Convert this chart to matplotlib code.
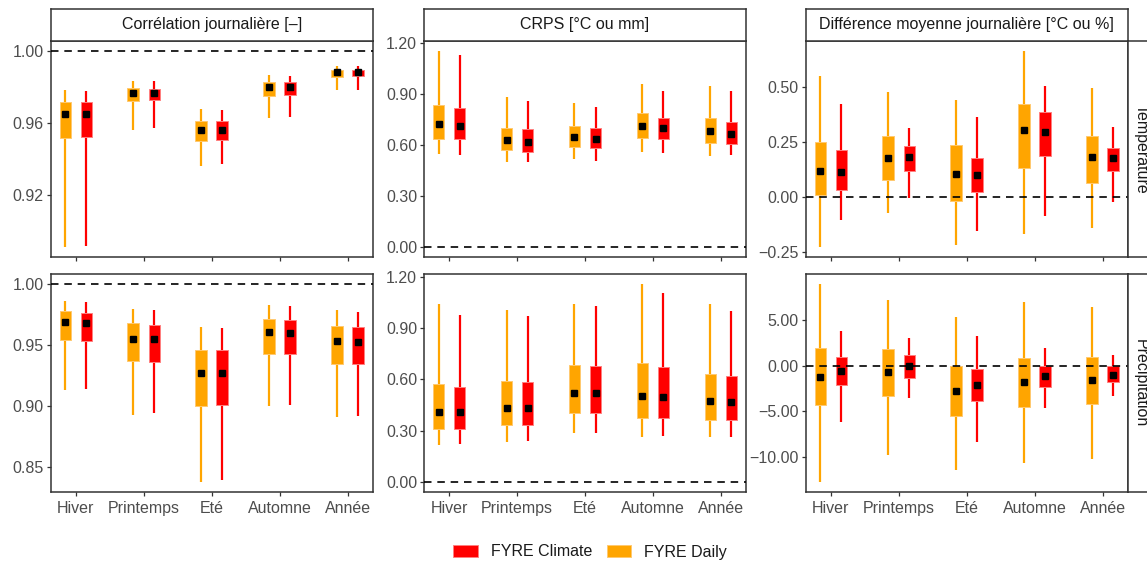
import matplotlib
matplotlib.use("Agg")
import matplotlib.pyplot as plt
from matplotlib.patches import Rectangle
import numpy as np

plt.rcParams['font.family'] = ['Liberation Sans', 'DejaVu Sans']

seasons = ["Hiver", "Printemps", "Eté", "Automne", "Année"]
metrics = ["Corrélation journalière [–]", "CRPS [°C ou mm]", "Différence moyenne journalière [°C ou %]"]
variables = ["Température", "Précipitation"]
series = ["FYRE Climate", "FYRE Daily"]

# each row: [whisker low, box low, point, box high, whisker high] per season
corr_temp_daily = [[0.8914, 0.9519, 0.9648, 0.9716, 0.9780],
                   [0.9563, 0.9722, 0.9764, 0.9792, 0.9830],
                   [0.9364, 0.9500, 0.9561, 0.9613, 0.9676],
                   [0.9628, 0.9751, 0.9799, 0.9827, 0.9864],
                   [0.9780, 0.9856, 0.9880, 0.9895, 0.9917]]
corr_temp_climate = [[0.8918, 0.9523, 0.9648, 0.9714, 0.9775],
                     [0.9572, 0.9725, 0.9764, 0.9790, 0.9830],
                     [0.9371, 0.9504, 0.9561, 0.9613, 0.9674],
                     [0.9635, 0.9757, 0.9799, 0.9827, 0.9862],
                     [0.9784, 0.9860, 0.9880, 0.9895, 0.9917]]
crps_temp_daily = [[0.545, 0.635, 0.721, 0.836, 1.153],
                   [0.500, 0.570, 0.627, 0.699, 0.881],
                   [0.518, 0.590, 0.645, 0.713, 0.848],
                   [0.557, 0.639, 0.709, 0.787, 0.959],
                   [0.537, 0.611, 0.680, 0.756, 0.943]]
crps_temp_climate = [[0.543, 0.633, 0.709, 0.818, 1.128],
                     [0.498, 0.559, 0.615, 0.691, 0.855],
                     [0.508, 0.580, 0.635, 0.699, 0.824],
                     [0.555, 0.633, 0.697, 0.756, 0.914],
                     [0.541, 0.605, 0.662, 0.736, 0.914]]
diff_temp_daily = [[-0.230, 0.009, 0.117, 0.252, 0.553],
                   [-0.073, 0.076, 0.177, 0.276, 0.477],
                   [-0.221, -0.021, 0.104, 0.235, 0.442],
                   [-0.168, 0.133, 0.305, 0.425, 0.668],
                   [-0.142, 0.064, 0.181, 0.276, 0.495]]
diff_temp_climate = [[-0.107, 0.032, 0.113, 0.213, 0.422],
                     [-0.005, 0.116, 0.183, 0.232, 0.316],
                     [-0.155, 0.020, 0.099, 0.177, 0.363],
                     [-0.088, 0.186, 0.296, 0.389, 0.505],
                     [-0.024, 0.120, 0.177, 0.223, 0.319]]
corr_prec_daily = [[0.9131, 0.9536, 0.9686, 0.9776, 0.9863],
                   [0.8926, 0.9366, 0.9549, 0.9678, 0.9798],
                   [0.8377, 0.8997, 0.9268, 0.9456, 0.9645],
                   [0.8995, 0.9426, 0.9607, 0.9713, 0.9828],
                   [0.8910, 0.9342, 0.9530, 0.9653, 0.9784]]
corr_prec_climate = [[0.9140, 0.9530, 0.9680, 0.9765, 0.9850],
                     [0.8940, 0.9363, 0.9550, 0.9667, 0.9790],
                     [0.8390, 0.9003, 0.9268, 0.9454, 0.9640],
                     [0.9008, 0.9423, 0.9598, 0.9702, 0.9817],
                     [0.8920, 0.9342, 0.9522, 0.9645, 0.9770]]
crps_prec_daily = [[0.216, 0.308, 0.407, 0.573, 1.042],
                   [0.234, 0.333, 0.431, 0.592, 1.009],
                   [0.286, 0.403, 0.520, 0.684, 1.042],
                   [0.261, 0.374, 0.503, 0.694, 1.159],
                   [0.261, 0.360, 0.473, 0.633, 1.042]]
crps_prec_climate = [[0.224, 0.308, 0.407, 0.553, 0.974],
                     [0.240, 0.331, 0.431, 0.584, 0.970],
                     [0.286, 0.401, 0.520, 0.676, 1.031],
                     [0.267, 0.374, 0.497, 0.674, 1.103],
                     [0.263, 0.360, 0.466, 0.621, 1.003]]
diff_prec_daily = [[-12.70, -4.32, -1.24, 1.90, 8.96],
                   [-9.77, -3.29, -0.70, 1.79, 7.17],
                   [-11.42, -5.45, -2.78, -0.07, 5.31],
                   [-10.65, -4.54, -1.79, 0.84, 6.95],
                   [-10.21, -4.17, -1.54, 0.91, 6.40]]
diff_prec_climate = [[-6.15, -2.12, -0.55, 0.99, 3.84],
                     [-3.51, -1.32, -0.04, 1.13, 3.00],
                     [-8.34, -3.88, -2.09, -0.37, 3.22],
                     [-4.65, -2.31, -1.13, 0.00, 1.98],
                     [-3.33, -1.83, -1.02, -0.07, 1.21]]

ref_lines = [1.0, 0.0, 0.0]
yticks = [[[0.92, 0.96, 1.00], [0.00, 0.30, 0.60, 0.90, 1.20], [-0.25, 0.00, 0.25, 0.50]],
          [[0.85, 0.90, 0.95, 1.00], [0.00, 0.30, 0.60, 0.90, 1.20], [-10.0, -5.0, 0.0, 5.0]]]

panels = [[(corr_temp_daily, corr_temp_climate), (crps_temp_daily, crps_temp_climate), (diff_temp_daily, diff_temp_climate)],
          [(corr_prec_daily, corr_prec_climate), (crps_prec_daily, crps_prec_climate), (diff_prec_daily, diff_prec_climate)]]

colors = {"FYRE Climate": "#FF0000", "FYRE Daily": "#FFA500"}
edge_colors = {"FYRE Climate": "#FF8080", "FYRE Daily": "#FFC970"}

W, H = 1147, 562
fig = plt.figure(figsize=(W / 100, H / 100), dpi=100)
fig.patch.set_facecolor("white")

def rect(x0, y0, x1, y1):
    return [x0 / W, 1 - y1 / H, (x1 - x0) / W, (y1 - y0) / H]

col_x = [(50.7, 372.7), (424.0, 746.0), (805.7, 1127.7)]
row_y = [(40.7, 257.0), (274.0, 491.7)]
border = "#333333"
tick_col = "#4D4D4D"
fs = 11.5

def fmt(v):
    s = f"{v:.2f}"
    return s.replace("-", "\u2212")

xpos = np.arange(1, len(seasons) + 1)
off = 0.155
bw = 0.17

for r in range(2):
    for c in range(3):
        ax = fig.add_axes(rect(col_x[c][0], row_y[r][0], col_x[c][1], row_y[r][1]))
        daily, climate = panels[r][c]
        allv = []
        for name, data, dx in (("FYRE Daily", daily, -off), ("FYRE Climate", climate, off)):
            d = np.array(data)
            allv.extend(d.ravel())
            ax.vlines(xpos + dx, d[:, 0], d[:, 4], color=colors[name], lw=1.6, zorder=2)
            ax.bar(xpos + dx, d[:, 3] - d[:, 1], bottom=d[:, 1], width=bw,
                   color=colors[name], edgecolor=edge_colors[name], linewidth=0.7, zorder=3)
            ax.plot(xpos + dx, d[:, 2], ls="none", marker="s", ms=4.2, color="black", zorder=5)
        ax.axhline(ref_lines[c], color="black", lw=1.2, ls=(0, (4.5, 3.5)), zorder=4)
        allv.append(ref_lines[c])
        lo, hi = min(allv), max(allv)
        pad = 0.05 * (hi - lo)
        ax.set_ylim(lo - pad, hi + pad)
        ax.set_xlim(0.63, 5.37)
        ax.set_yticks(yticks[r][c])
        ax.set_yticklabels([fmt(v) for v in yticks[r][c]])
        ax.set_xticks(xpos)
        if r == 1:
            ax.set_xticklabels(seasons)
        else:
            ax.set_xticklabels([])
            ax.tick_params(axis="x", length=0)
        ax.tick_params(axis="both", labelsize=fs, labelcolor=tick_col, color=border,
                       width=0.9, length=3)
        ax.tick_params(axis="y", pad=2)
        ax.tick_params(axis="x", pad=4)
        for sp in ax.spines.values():
            sp.set_color(border)
            sp.set_linewidth(1.1)
        # top strips
        if r == 0:
            sax = fig.add_axes(rect(col_x[c][0], 9.0, col_x[c][1], row_y[0][0]))
            sax.set_xticks([]); sax.set_yticks([])
            for sp in sax.spines.values():
                sp.set_color(border); sp.set_linewidth(1.1)
            sax.text(0.5, 0.5, metrics[c], ha="center", va="center", fontsize=fs,
                     color="#1A1A1A", transform=sax.transAxes)
        # right strips
        if c == 2:
            rax = fig.add_axes(rect(col_x[2][1], row_y[r][0], col_x[2][1] + 26, row_y[r][1]))
            rax.set_xticks([]); rax.set_yticks([])
            for sp in rax.spines.values():
                sp.set_color(border); sp.set_linewidth(1.1)
            rax.text(0.5, 0.5, variables[r], ha="center", va="center", fontsize=fs,
                     color="#1A1A1A", rotation=-90, transform=rax.transAxes)

# legend
handles = [Rectangle((0, 0), 1, 1, facecolor=colors[s], edgecolor=edge_colors[s], linewidth=0.7) for s in series]
fig.legend(handles, series, loc="center", bbox_to_anchor=(590 / W, 1 - 552 / H), ncol=2,
           frameon=False, fontsize=fs, handlelength=1.55, handleheight=0.7,
           handletextpad=0.8, columnspacing=0.9, labelcolor="#1A1A1A")

fig.savefig("out.png", dpi=100)
